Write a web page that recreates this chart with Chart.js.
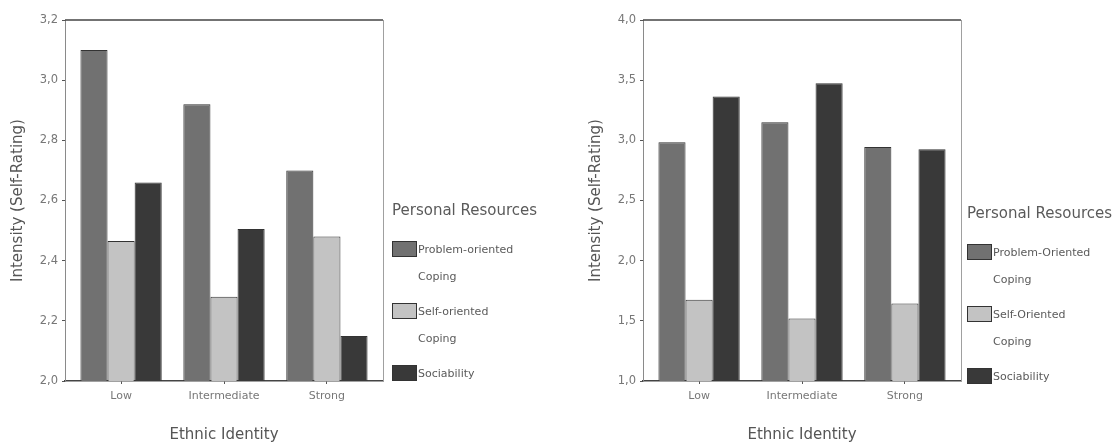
<!DOCTYPE html>
<html>
<head>
<meta charset="utf-8">
<script src="https://cdn.jsdelivr.net/npm/chart.js@4.4.0/dist/chart.umd.min.js"></script>
<style>
  html, body { margin:0; padding:0; background:#fff; width:1117px; height:444px; overflow:hidden; font-family:"DejaVu Sans", sans-serif; }
  .wrap { position:absolute; top:0; width:539px; height:444px; }
  .legend { position:absolute; top:0; width:160px; height:444px; color:#555; }
  .ltitle { position:absolute; left:0; font-size:15px; line-height:18px; white-space:nowrap; color:#5a5a5a; }
  .lbox { position:absolute; left:0; width:25px; height:16px; box-sizing:border-box; border:1px solid #333; }
  .ltext { position:absolute; left:26px; font-size:11px; line-height:14px; white-space:nowrap; color:#5a5a5a; }
</style>
</head>
<body>
<div class="wrap" style="left:0"><canvas id="c1" width="539" height="444"></canvas></div>
<div class="wrap" style="left:578px"><canvas id="c2" width="539" height="444"></canvas></div>
<div id="lg1" class="legend" style="left:392px"></div>
<div id="lg2" class="legend" style="left:967px"></div>
<script>
// ---- data ----
const categories = ["Low", "Intermediate", "Strong"];

const leftProblem = [3.10, 2.92, 2.70];
const leftSelf    = [2.465, 2.28, 2.48];
const leftSoc     = [2.66, 2.505, 2.15];

const rightProblem = [2.985, 3.15, 2.945];
const rightSelf    = [1.675, 1.52, 1.645];
const rightSoc     = [3.365, 3.475, 2.925];

const yTickLabelsLeft  = ["2,0", "2,2", "2,4", "2,6", "2,8", "3,0", "3,2"];
const yTickLabelsRight = ["1,0", "1,5", "2,0", "2,5", "3,0", "3,5", "4,0"];

const seriesNamesLeft  = ["Problem-oriented\nCoping", "Self-oriented\nCoping", "Sociability"];
const seriesNamesRight = ["Problem-Oriented\nCoping", "Self-Oriented\nCoping", "Sociability"];

const legendTitle = "Personal Resources";
const xTitle = "Ethnic Identity";
const yTitle = "Intensity (Self-Rating)";

const seriesColors = ["#717171", "#c3c3c3", "#393939"];

// ---- chart ----
const framePlugin = {
  id: 'frame',
  afterDraw(chart) {
    const { ctx, chartArea: a } = chart;
    ctx.save();
    ctx.strokeStyle = '#444';
    ctx.lineWidth = 1.5;
    ctx.beginPath(); ctx.moveTo(a.left, a.top); ctx.lineTo(a.right, a.top); ctx.stroke();
    ctx.strokeStyle = '#a0a0a0';
    ctx.lineWidth = 1;
    ctx.beginPath(); ctx.moveTo(a.right + 0.5, a.top); ctx.lineTo(a.right + 0.5, a.bottom); ctx.stroke();
    ctx.restore();
  }
};

function makeChart(id, names, values, yMin, yMax, step, tickLabels) {
  const datasets = values.map((v, i) => ({
    label: names[i].replace('\n', ' '),
    data: v,
    backgroundColor: seriesColors[i],
    borderColor: '#333',
    borderWidth: 1,
    categoryPercentage: 0.79,
    barPercentage: 1.0
  }));
  return new Chart(document.getElementById(id), {
    type: 'bar',
    data: { labels: categories, datasets },
    plugins: [framePlugin],
    options: {
      responsive: false,
      animation: false,
      layout: { padding: { left: 0, right: 156, top: 20, bottom: 0 } },
      plugins: { legend: { display: false }, tooltip: { enabled: false } },
      scales: {
        x: {
          grid: { display: true, drawOnChartArea: false, offset: false, tickLength: 3, color: '#555' },
          border: { display: true, color: '#444', width: 1.5 },
          ticks: { color: '#777', font: { family: 'DejaVu Sans', size: 11 }, padding: 6 },
          title: { display: true, text: xTitle, color: '#555', font: { family: 'DejaVu Sans', size: 15 }, padding: { top: 20, bottom: 0 } },
          afterBuildTicks(s) {
            // slightly wider outer margin around the category groups
            s._startValue -= 0.045;
            s._valueRange += 0.09;
          },
          afterFit(s) { s.height = 63; }
        },
        y: {
          min: yMin, max: yMax,
          grid: { display: true, drawOnChartArea: false, tickLength: 3, color: '#555' },
          border: { display: true, color: '#8a8a8a', width: 1 },
          ticks: {
            stepSize: step,
            color: '#777',
            font: { family: 'DejaVu Sans', size: 11.5 },
            padding: 4,
            callback: (v, i) => tickLabels[i]
          },
          title: { display: true, text: yTitle, color: '#555', font: { family: 'DejaVu Sans', size: 15 }, padding: { top: 9, bottom: 0 } },
          afterFit(s) { s.width = 65; }
        }
      }
    }
  });
}

makeChart('c1', seriesNamesLeft, [leftProblem, leftSelf, leftSoc], 2.0, 3.2, 0.2, yTickLabelsLeft);
makeChart('c2', seriesNamesRight, [rightProblem, rightSelf, rightSoc], 1.0, 4.0, 0.5, yTickLabelsRight);

// ---- HTML legends ----
function buildLegend(elId, names, titleCenter, firstCenter) {
  const el = document.getElementById(elId);
  const t = document.createElement('div');
  t.className = 'ltitle';
  t.textContent = legendTitle;
  t.style.top = (titleCenter - 9) + 'px';
  el.appendChild(t);
  names.forEach((n, i) => {
    const c = firstCenter + i * 62;
    const b = document.createElement('div');
    b.className = 'lbox';
    b.style.top = (c - 8) + 'px';
    b.style.background = seriesColors[i];
    el.appendChild(b);
    n.split('\n').forEach((line, j) => {
      const tx = document.createElement('div');
      tx.className = 'ltext';
      tx.textContent = line;
      tx.style.top = (c - 6 + j * 27) + 'px';
      el.appendChild(tx);
    });
  });
}
buildLegend('lg1', seriesNamesLeft, 210, 249);
buildLegend('lg2', seriesNamesRight, 213, 252);
</script>
</body>
</html>
